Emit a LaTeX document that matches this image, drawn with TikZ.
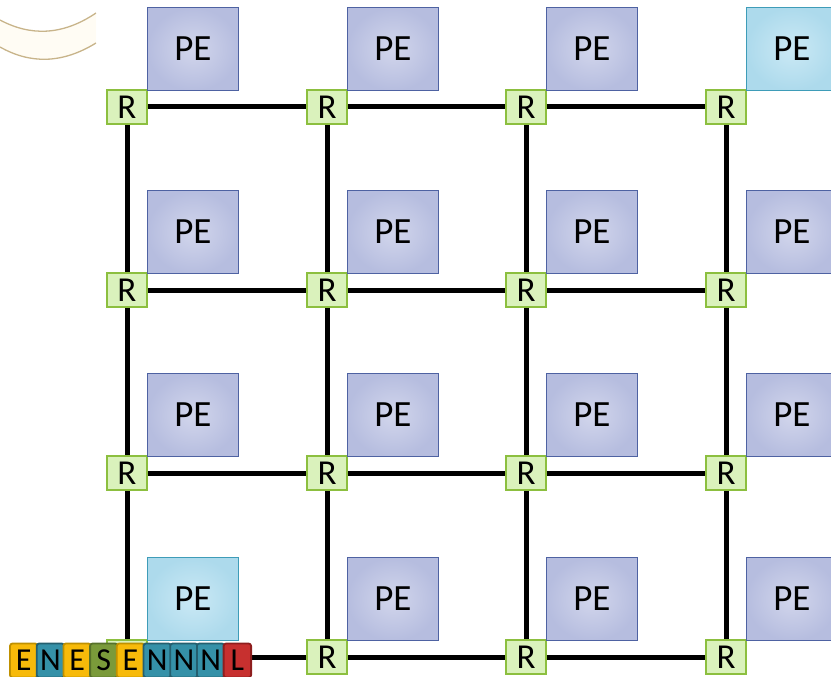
\documentclass[tikz,border=0pt]{standalone}
\usepackage{fontspec}
\setmainfont{Carlito}
\usetikzlibrary{positioning}

\definecolor{pelight}{HTML}{D2D6EC}
\definecolor{pedark}{HTML}{B6BDDF}
\definecolor{peedge}{HTML}{4E62A2}
\definecolor{hotlight}{HTML}{CBE9F5}
\definecolor{hotdark}{HTML}{ADDAEC}
\definecolor{hotedge}{HTML}{3E9CB8}
\definecolor{routerfill}{HTML}{DAF2BC}
\definecolor{routeredge}{HTML}{8CBF3F}
\definecolor{goldfill}{HTML}{F7BA0A}
\definecolor{goldedge}{HTML}{BF9000}
\definecolor{tealfill}{HTML}{3591A8}
\definecolor{tealedge}{HTML}{245F6F}
\definecolor{olivefill}{HTML}{7A9A3A}
\definecolor{oliveedge}{HTML}{56702A}
\definecolor{redfill}{HTML}{C7302F}
\definecolor{rededge}{HTML}{8E1E1E}
\definecolor{cream}{HTML}{FFFCF4}
\definecolor{tan}{HTML}{C8B48A}

\begin{document}
\begin{tikzpicture}
  [x=1pt,y=-1pt,
   router/.style={draw=routeredge,fill=routerfill,line width=1.8pt,minimum width=40pt,
     minimum height=34pt,inner sep=0pt,font=\fontsize{35}{35}\selectfont},
   pe/.style={draw=peedge,inner color=pelight,outer color=pedark,line width=1pt,
     minimum width=91pt,minimum height=83pt,inner sep=0pt,font=\fontsize{37}{37}\selectfont},
   hot/.style={draw=hotedge,inner color=hotlight,outer color=hotdark},
   hot14/.style=hot, hot41/.style=hot,
   link/.style={line width=5pt},
   flit/.style={rounded corners=2.5pt,line width=1.8pt,minimum width=27.5pt,minimum height=34pt,
     inner sep=0pt,font=\fontsize{32}{32}\selectfont},
   flitE/.style={fill=goldfill,draw=goldedge},
   flitN/.style={fill=tealfill,draw=tealedge},
   flitS/.style={fill=olivefill,draw=oliveedge},
   flitL/.style={fill=redfill,draw=rededge}]

  \useasboundingbox (0,0) rectangle (831,677);

  % corner band
  \begin{scope}
    \clip (0,0) rectangle (96,80);
    \fill[cream] (0,20) .. controls (30,36) and (62,36) .. (96,13)
      -- (96,43) .. controls (62,64) and (30,64) .. (0,47) -- cycle;
    \draw[tan,line width=1.3pt] (0,20) .. controls (30,36) and (62,36) .. (96,13);
    \draw[tan,line width=1.3pt] (0,47) .. controls (30,64) and (62,64) .. (96,43);
  \end{scope}

  % routers (the one under the packet shows no label)
  \foreach \y [count=\i] in {107,290,473,657}
    \foreach \x [count=\j] in {127,327,526,726}
      \node[router] (r\i\j) at (\x,\y) {\ifnum\i\j=41 \else R\fi};

  % processing elements
  \foreach \i in {1,...,4}
    \foreach \j in {1,...,4}
      \node[pe,hot\i\j/.try,above right=-2pt and -1pt of r\i\j] (pe\i\j) {PE};

  % mesh links
  \foreach \i in {1,...,4}
    \foreach \j/\k in {1/2,2/3,3/4} {
      \draw[link] (r\i\j) -- (r\i\k);
      \draw[link] (r\j\i) -- (r\k\i);
    }

  % packet flits
  \foreach \c [count=\k] in {E,N,E,S,E,N,N,N,L}
    \node[flit,flit\c] (f\k) at ({23.75+26.7*(\k-1)},660.5) {\c};

\end{tikzpicture}
\end{document}
